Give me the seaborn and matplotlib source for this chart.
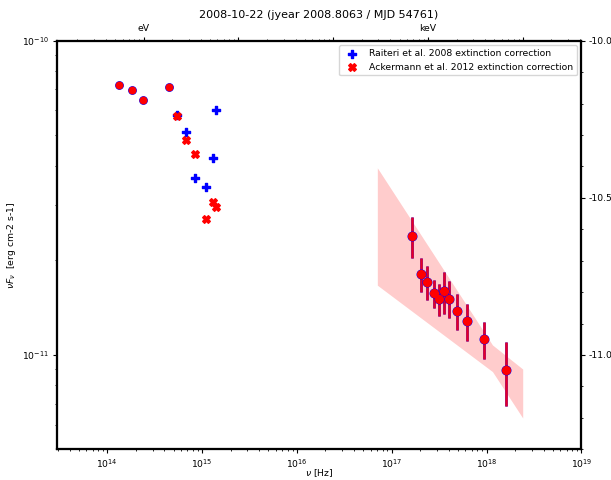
import matplotlib
matplotlib.use('Agg')
import matplotlib.pyplot as plt
import matplotlib.ticker as mticker
import numpy as np
import seaborn as sns

plt.rcParams['font.size'] = 6.7
plt.rcParams['axes.linewidth'] = 1.5
for a in ('xtick', 'ytick'):
    plt.rcParams[a + '.major.size'] = 2.8
    plt.rcParams[a + '.minor.size'] = 1.6
    plt.rcParams[a + '.major.pad'] = 2.7
    plt.rcParams[a + '.minor.pad'] = 2.7
plt.rcParams['axes.labelpad'] = 3.0
plt.rcParams['axes.titlepad'] = 4.5

# ── Data ─────────────────────────────────────────────────────────────────────
# near-IR / optical points shared by both extinction corrections
ir_nu   = [1.339e14, 1.807e14, 2.40e14, 4.48e14]
ir_flux = [7.25e-11, 6.97e-11, 6.49e-11, 7.11e-11]

# UV / optical points, two extinction corrections
uv_nu      = [5.39e14, 6.76e14, 8.36e14, 1.099e15, 1.312e15, 1.403e15]
uv_raiteri = [5.82e-11, 5.11e-11, 3.66e-11, 3.42e-11, 4.22e-11, 6.00e-11]
uv_ackerm  = [5.74e-11, 4.82e-11, 4.35e-11, 2.70e-11, 3.07e-11, 2.96e-11]

# X-ray spectrum points with errors
xr_nu   = [1.626e17, 2.02e17, 2.377e17, 2.776e17, 3.177e17, 3.589e17,
           4.053e17, 4.853e17, 6.27e17, 9.42e17, 1.618e18]
xr_flux = [2.39e-11, 1.81e-11, 1.71e-11, 1.57e-11, 1.51e-11, 1.60e-11,
           1.51e-11, 1.38e-11, 1.28e-11, 1.12e-11, 8.95e-12]
xr_lo   = [2.04e-11, 1.59e-11, 1.50e-11, 1.41e-11, 1.33e-11, 1.35e-11,
           1.31e-11, 1.20e-11, 1.11e-11, 9.68e-12, 6.90e-12]
xr_hi   = [2.74e-11, 2.03e-11, 1.92e-11, 1.73e-11, 1.68e-11, 1.83e-11,
           1.72e-11, 1.56e-11, 1.45e-11, 1.27e-11, 1.10e-11]

# X-ray model butterfly
band_nu = [7.05e16, 1.156e18, 2.41e18]
band_hi = [3.94e-11, 1.076e-11, 9.02e-12]
band_lo = [1.667e-11, 8.85e-12, 6.30e-12]

XLIM = (10**13.466, 1e19)
YLIM = (5.01e-12, 1e-10)
HZ_PER_EV = 2.418e14

# ── Figure ───────────────────────────────────────────────────────────────────
fig = plt.figure(figsize=(6.11, 4.8), dpi=100)
ax = fig.add_axes([0.0928, 0.0640, 0.8586, 0.8513])
ax.set_xscale('log')
ax.set_yscale('log')

ax.fill_between(band_nu, band_lo, band_hi, color='red', alpha=0.2, lw=0)

sns.scatterplot(x=ir_nu, y=ir_flux, marker='o', color='blue', s=40,
                linewidth=0, ax=ax)
sns.scatterplot(x=ir_nu, y=ir_flux, marker='o', color='red', s=32,
                linewidth=0, ax=ax)
sns.scatterplot(x=uv_nu, y=uv_raiteri, marker='P', color='blue', s=30,
                edgecolor='blue', linewidth=1.0, ax=ax,
                label='Raiteri et al. 2008 extinction correction')
sns.scatterplot(x=uv_nu, y=uv_ackerm, marker='X', color='red', s=30,
                edgecolor='red', linewidth=1.0, ax=ax,
                label='Ackermann et al. 2012 extinction correction')

xf = np.array(xr_flux)
yerr = [xf - np.array(xr_lo), np.array(xr_hi) - xf]
ax.errorbar(xr_nu, xr_flux, yerr=yerr, fmt='o', color='blue', ms=6.2,
            elinewidth=1.8, capsize=0)
ax.errorbar(xr_nu, xr_flux, yerr=yerr, fmt='o', color='red',
            ecolor=(0.9, 0.0, 0.15), ms=5.6, elinewidth=1.8, capsize=0)

ax.set_xlim(*XLIM)
ax.set_ylim(*YLIM)
ax.set_xlabel(r'$\nu$ [Hz]', labelpad=-1.5)
ax.set_ylabel(r'$\nu F_\nu$  [erg cm-2 s-1]')
ax.legend(loc='upper right', fontsize=6.7)

# top axis in energy units
axt = ax.twiny()
axt.set_xscale('log')
axt.set_xlim(XLIM[0] / HZ_PER_EV, XLIM[1] / HZ_PER_EV)
axt.xaxis.set_major_locator(mticker.LogLocator(base=10, numticks=20))
def ev_label(v, pos):
    if np.isclose(v, 1.0):
        return 'eV'
    if np.isclose(v, 1000.0):
        return 'keV'
    return ''
axt.xaxis.set_major_formatter(mticker.FuncFormatter(ev_label))
axt.xaxis.set_minor_formatter(mticker.NullFormatter())

# right axis in log10 flux
axr = ax.twinx()
axr.set_ylim(np.log10(YLIM[0]), np.log10(YLIM[1]))
axr.yaxis.set_major_locator(mticker.MultipleLocator(0.5))
axr.yaxis.set_minor_locator(mticker.MultipleLocator(0.1))
axr.yaxis.set_major_formatter(mticker.FormatStrFormatter('%.1f'))

ax.set_title('2008-10-22 (jyear 2008.8063 / MJD 54761)')

fig.savefig('out.png', dpi=100)
